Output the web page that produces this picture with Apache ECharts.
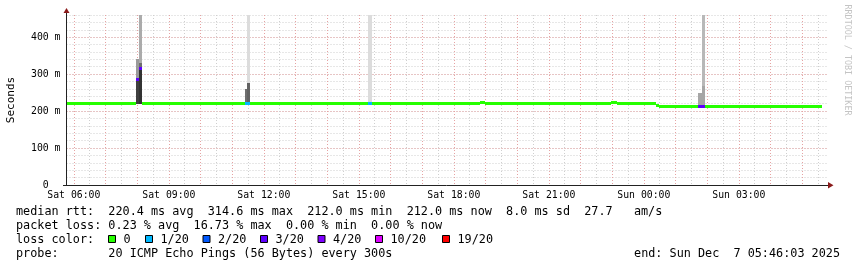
<!DOCTYPE html>
<html><head><meta charset="utf-8">
<script src="https://cdn.jsdelivr.net/npm/echarts@6/dist/echarts.min.js"></script>
<style>html,body{margin:0;padding:0;background:#fff}#c{width:857px;height:267px}</style>
</head><body><div id="c"></div>
<script>
// ---- time window (hours since Sat 00:00) ----
const T0 = 5.7675, T1 = 29.7675;

// ---- tick labels ----
const xTickHours = [6, 9, 12, 15, 18, 21, 24, 27];
const xTickText = ['Sat 06:00','Sat 09:00','Sat 12:00','Sat 15:00','Sat 18:00','Sat 21:00','Sun 00:00','Sun 03:00'];
const yTickMs = [0, 100, 200, 300, 400];
const yTickText = ['0  ', '100 m', '200 m', '300 m', '400 m'];

// ---- loss colours ----
const lossLabels = ['0','1/20','2/20','3/20','4/20','10/20','19/20'];
const lossColors = ['#26ff00','#00b8ff','#0059ff','#5e00ff','#7e00ff','#dd00ff','#ff0000'];

// ---- median rtt runs (ms) ----
const medStart = [5.768, 7.969, 8.051, 8.136, 11.389, 11.569, 15.282, 15.409, 18.810, 18.999, 22.978, 23.136, 24.390, 24.472, 25.725, 25.924];
const medEnd   = [7.969, 8.051, 8.136, 11.389, 11.569, 15.282, 15.409, 18.810, 18.999, 22.978, 23.136, 24.390, 24.472, 25.725, 25.924, 29.632];
const medValue = [221, 286, 314, 221, 221, 221, 221, 221, 223, 221, 223, 221, 216, 212, 212, 212];
const medLoss  = [0, 3, 3, 0, 1, 0, 1, 0, 0, 0, 0, 0, 0, 0, 3, 0];

// ---- smoke bands (ms) ----
const smokeStart = [7.969, 7.969, 8.051, 8.051, 8.051, 11.389, 11.474, 11.474, 15.282, 25.725, 25.830, 25.830];
const smokeEnd   = [8.051, 8.051, 8.136, 8.136, 8.136, 11.474, 11.569, 11.569, 15.409, 25.830, 25.924, 25.924];
const smokeLow   = [218, 286, 218, 316, 329, 221, 221, 277, 221, 212, 212, 268];
const smokeHigh  = [286, 340, 316, 329, 460, 261, 277, 460, 460, 250, 268, 460];
const smokeShade = ['#3f3f3f','#9a9a9a','#333333','#6e6e6e','#ababab','#6e6e6e','#626262','#dcdcdc','#dcdcdc','#a6a6a6','#a6a6a6','#b8b8b8'];

// ---- legend texts ----
const statLine1 = 'median rtt:  220.4 ms avg  314.6 ms max  212.0 ms min  212.0 ms now  8.0 ms sd  27.7   am/s';
const statLine2 = 'packet loss: 0.23 % avg  16.73 % max  0.00 % min  0.00 % now';
const statLine3 = 'loss color:';
const statLine4 = 'probe:       20 ICMP Echo Pings (56 Bytes) every 300s';
const endText = 'end: Sun Dec  7 05:46:03 2025';

// ---- layout ----
const L = 66.5, TOP = 15, W = 760, H = 170;
const PXH = W / (T1 - T0);
const MONO = '"DejaVu Sans Mono", monospace';
const gridRed = '#e6a3a3', gridGrey = '#cfcfcf';

const smokeData = smokeStart.map((s, i) => ({
  value: [s, smokeEnd[i], smokeLow[i] / 1000, smokeHigh[i] / 1000],
  itemStyle: { color: smokeShade[i] }
}));
const medData = medStart.map((s, i) => ({
  value: [s, medEnd[i], medValue[i] / 1000],
  itemStyle: { color: lossColors[medLoss[i]] }
}));

function renderBand(params, api) {
  const a = api.coord([api.value(0), api.value(3)]);
  const b = api.coord([api.value(1), api.value(2)]);
  const x0 = Math.round(a[0]), x1 = Math.round(b[0]);
  const y0 = Math.round(a[1]), y1 = Math.round(b[1]);
  return { type: 'rect', shape: { x: x0, y: y0, width: x1 - x0, height: y1 - y0 },
           style: { fill: api.visual('color') } };
}
function renderMed(params, api) {
  const a = api.coord([api.value(0), api.value(2)]);
  const b = api.coord([api.value(1), api.value(2)]);
  const x0 = Math.round(a[0]), x1 = Math.round(b[0]);
  const yc = Math.round(a[1] - 1.5);
  return { type: 'rect', shape: { x: x0, y: yc, width: x1 - x0, height: 3 },
           style: { fill: api.visual('color') } };
}

const graphics = [];
const txt = (t, x, y, size, extra) => Object.assign({
  type: 'text', x: x, y: y, z: 100,
  style: { text: t, fill: '#000', font: size + 'px ' + MONO, align: 'left', verticalAlign: 'middle' }
}, extra || {});
graphics.push(txt(statLine1, 16, 211.5, 11.8));
graphics.push(txt(statLine2, 16, 225.5, 11.8));
graphics.push(txt(statLine3, 16, 239.5, 11.8));
graphics.push(txt(statLine4, 16, 253.5, 11.8));
const endEl = txt(endText, 840, 253.5, 11.8); endEl.style.align = 'right'; graphics.push(endEl);
const swX = [108.5, 145.5, 203, 260.5, 318, 375.5, 442.5];
lossLabels.forEach((lab, i) => {
  graphics.push({ type: 'rect', z: 100, shape: { x: swX[i], y: 235.5, width: 7, height: 7 },
                  style: { fill: lossColors[i], stroke: '#000', lineWidth: 1 } });
  graphics.push(txt(lab, swX[i] + 15, 239.5, 11.8));
});
// axis name and watermark
graphics.push({ type: 'text', x: 11, y: 100, rotation: Math.PI / 2, z: 100,
  style: { text: 'Seconds', fill: '#000', font: '11px ' + MONO, align: 'center', verticalAlign: 'middle' } });
graphics.push({ type: 'text', x: 847.5, y: 60, rotation: -Math.PI / 2, z: 100,
  style: { text: 'RRDTOOL / TOBI OETIKER', fill: '#c4c4c4', font: '8.4px ' + MONO, align: 'center', verticalAlign: 'middle' } });
// axis arrows / extensions
graphics.push({ type: 'line', z: 100, shape: { x1: 66.5, y1: 15, x2: 66.5, y2: 11 }, style: { stroke: '#222', lineWidth: 1 } });
graphics.push({ type: 'line', z: 100, shape: { x1: 826, y1: 185.5, x2: 829, y2: 185.5 }, style: { stroke: '#222', lineWidth: 1 } });
graphics.push({ type: 'line', z: 100, shape: { x1: 63, y1: 185.5, x2: 67, y2: 185.5 }, style: { stroke: '#222', lineWidth: 1 } });
graphics.push({ type: 'polygon', z: 100, shape: { points: [[63.5, 13], [69.5, 13], [66.5, 8]] }, style: { fill: '#8a1a1a' } });
graphics.push({ type: 'polygon', z: 100, shape: { points: [[828, 182], [828, 188.5], [833.5, 185.3]] }, style: { fill: '#8a1a1a' } });

const option = {
  animation: false,
  backgroundColor: '#ffffff',
  grid: [
    { left: L, top: TOP, width: W, height: H },
    { left: L - (T0 - 5.5) * PXH, top: TOP, width: (30 - 5.5) * PXH, height: H },
    { left: L - (T0 - 5) * PXH, top: TOP, width: (30 - 5) * PXH, height: H }
  ],
  xAxis: [
    { gridIndex: 0, type: 'value', min: T0, max: T1,
      axisLine: { show: true, lineStyle: { color: '#222', width: 1 } },
      axisTick: { show: false }, axisLabel: { show: false }, splitLine: { show: false } },
    { gridIndex: 1, type: 'value', min: 5.5, max: 30, interval: 0.5,
      axisLine: { show: false }, axisTick: { show: false }, axisLabel: { show: false },
      splitLine: { show: true, showMinLine: false, showMaxLine: false, lineStyle: { color: gridGrey, width: 1, type: [1, 2] } } },
    { gridIndex: 2, type: 'value', min: 5, max: 30, interval: 1,
      axisLine: { show: false }, axisTick: { show: false },
      axisLabel: { show: true, showMinLabel: false, showMaxLabel: false, margin: 5, color: '#000',
        fontFamily: MONO, fontSize: 9.8,
        formatter: v => { const i = xTickHours.indexOf(Math.round(v)); return i >= 0 && Math.abs(v - Math.round(v)) < 1e-6 ? xTickText[i] : ''; } },
      splitLine: { show: true, showMinLine: false, showMaxLine: false, lineStyle: { color: gridRed, width: 1, type: [1, 2] } } }
  ],
  yAxis: [
    { gridIndex: 0, type: 'value', position: 'left', min: 0, max: 0.46, interval: 0.02,
      axisLine: { show: false }, axisTick: { show: false }, axisLabel: { show: false },
      splitLine: { show: true, showMinLine: false, lineStyle: { color: gridGrey, width: 1, type: [1, 2] } } },
    { gridIndex: 0, type: 'value', position: 'left', min: 0, max: 0.46, interval: 0.1,
      axisLine: { show: true, lineStyle: { color: '#222', width: 1 } }, axisTick: { show: false },
      axisLabel: { show: true, showMaxLabel: false, margin: 6, color: '#000', fontFamily: MONO, fontSize: 9.8,
        formatter: v => { const i = yTickMs.indexOf(Math.round(v * 1000)); return i >= 0 ? yTickText[i] : ''; } },
      splitLine: { show: true, showMinLine: false, showMaxLine: false, lineStyle: { color: gridRed, width: 1, type: [1, 2] } } },
    { gridIndex: 1, show: false, min: 0, max: 1 },
    { gridIndex: 2, show: false, min: 0, max: 1 }
  ],
  series: [
    { type: 'custom', xAxisIndex: 0, yAxisIndex: 1, silent: true, renderItem: renderBand,
      encode: { x: [0, 1], y: [2, 3] }, data: smokeData, z: 3 },
    { type: 'custom', xAxisIndex: 0, yAxisIndex: 1, silent: true, renderItem: renderMed,
      encode: { x: [0, 1], y: [2] }, data: medData, z: 4 }
  ],
  graphic: graphics
};
const chart = echarts.init(document.getElementById('c'), null, { renderer: 'canvas' });
chart.setOption(option);
</script></body></html>
